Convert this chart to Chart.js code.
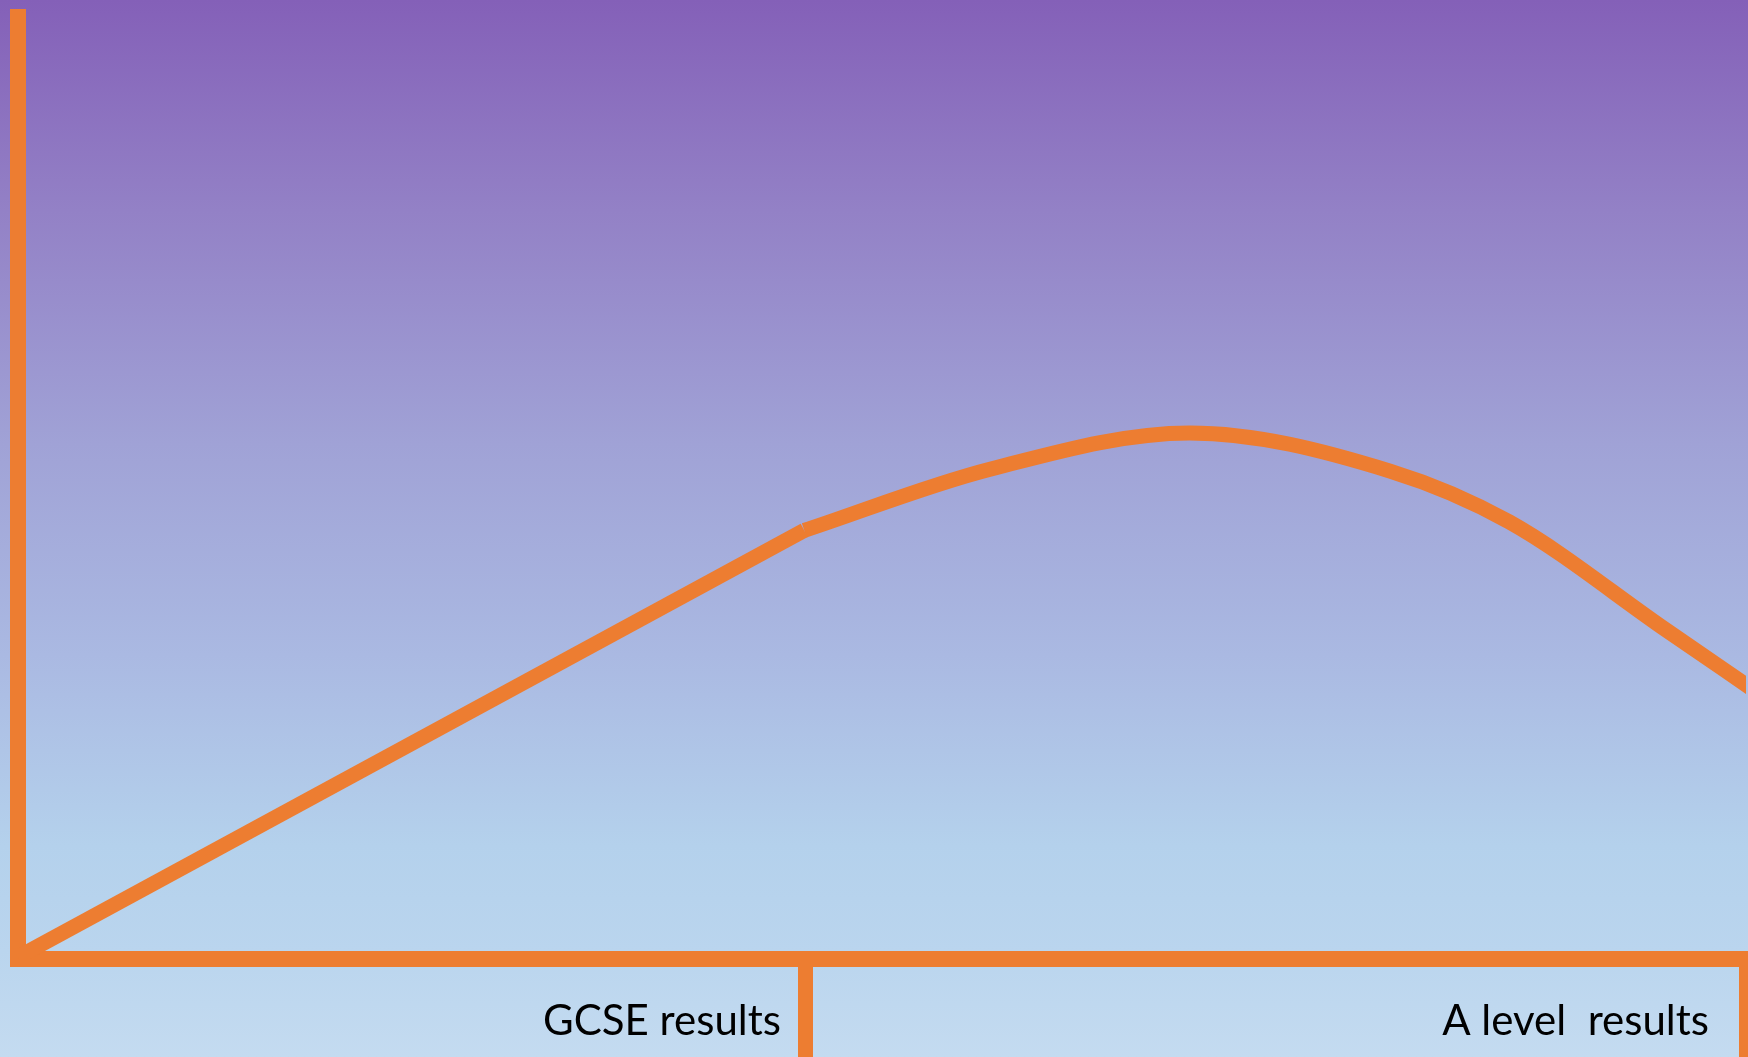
<!DOCTYPE html>
<html>
<head>
<meta charset="utf-8">
<script src="https://cdn.jsdelivr.net/npm/chart.js@4/dist/chart.umd.min.js"></script>
<style>
  html, body { margin: 0; padding: 0; overflow: hidden; }
  #wrap { position: relative; width: 1748px; height: 1057px; }
</style>
</head>
<body>
<div id="wrap"><canvas id="c"></canvas></div>
<script>
// ---- data ----
const tickValues = [45.6, 100];
const tickLabels = ['GCSE results', 'A level  results'];

const gcseX = [0, 45.5];
const gcseY = [0.2, 45.5];

const alevelX = [45.5, 56.25, 67.8, 79.4, 86.3, 95.4, 100.4];
const alevelY = [45.5, 52.0, 55.85, 51.8, 46.4, 34.9, 28.6];

const ORANGE = '#ED7D31';

const toPoints = (xs, ys) => xs.map((x, i) => ({ x, y: ys[i] }));

const bgPlugin = {
  id: 'bg',
  beforeDraw(chart) {
    const { ctx, width, height } = chart;
    const g = ctx.createLinearGradient(0, 0, 0, height);
    g.addColorStop(0.0, '#8460B8');
    g.addColorStop(0.2, '#9381C6');
    g.addColorStop(0.42, '#A0A2D6');
    g.addColorStop(0.62, '#AAB9E2');
    g.addColorStop(0.8, '#B4D1EC');
    g.addColorStop(0.9, '#BAD5EE');
    g.addColorStop(1.0, '#C4DBF0');
    ctx.save();
    ctx.fillStyle = g;
    ctx.fillRect(0, 0, width, height);
    ctx.restore();
  }
};

const labelPlugin = {
  id: 'axisLabels',
  afterDraw(chart, args, opts) {
    const { ctx } = chart;
    const sx = chart.scales.x;
    ctx.save();
    ctx.font = opts.font;
    ctx.fillStyle = opts.color;
    ctx.textAlign = 'right';
    ctx.textBaseline = 'alphabetic';
    tickValues.forEach((v, i) => {
      const px = sx.getPixelForValue(v) - opts.gaps[i];
      ctx.fillText(tickLabels[i], px, opts.baseline);
    });
    ctx.restore();
  }
};

new Chart(document.getElementById('c'), {
  type: 'line',
  data: {
    datasets: [
      {
        data: toPoints(gcseX, gcseY),
        borderColor: ORANGE,
        borderWidth: 15,
        tension: 0,
        pointRadius: 0,
        borderCapStyle: 'butt',
        borderJoinStyle: 'miter',
        fill: false
      },
      {
        data: toPoints(alevelX, alevelY),
        borderColor: ORANGE,
        borderWidth: 15,
        cubicInterpolationMode: 'monotone',
        pointRadius: 0,
        borderCapStyle: 'butt',
        fill: false
      }
    ]
  },
  options: {
    responsive: true,
    maintainAspectRatio: false,
    animation: false,
    devicePixelRatio: 1,
    layout: { padding: { top: 17, right: 2, left: 0, bottom: 0 } },
    plugins: {
      legend: { display: false },
      tooltip: { enabled: false },
      axisLabels: { font: '42px Lato', color: '#000000', gaps: [25, 37], baseline: 1035 }
    },
    scales: {
      x: {
        type: 'linear',
        min: 0,
        max: 100,
        afterBuildTicks: (s) => { s.ticks = tickValues.map(v => ({ value: v })); },
        afterFit: (s) => { s.height = 98; },
        ticks: { display: false },
        grid: {
          display: true,
          drawOnChartArea: false,
          drawTicks: true,
          tickLength: 110,
          tickWidth: 15,
          tickColor: ORANGE,
          lineWidth: 15,
          color: ORANGE
        },
        border: { display: true, color: ORANGE, width: 16 }
      },
      y: {
        type: 'linear',
        min: 0,
        max: 100,
        afterFit: (s) => { s.width = 18; },
        ticks: { display: false },
        grid: { display: false },
        border: { display: true, color: ORANGE, width: 16 }
      }
    }
  },
  plugins: [bgPlugin, labelPlugin]
});
</script>
</body>
</html>
